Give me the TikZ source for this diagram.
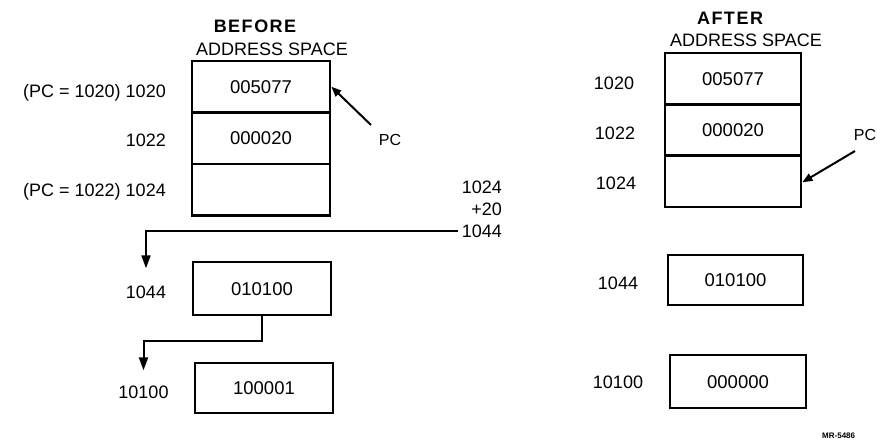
\documentclass[tikz,border=0pt]{standalone}
\usepackage{fontspec}
\setmainfont{Liberation Sans}
\usetikzlibrary{arrows.meta}
\newcommand{\spc}{\kern1.5pt}
\begin{document}
\begin{tikzpicture}[x=1pt,y=-1pt,
  lbl/.style={inner sep=0pt, font=\fontsize{18}{20}\selectfont, text height=13pt, text depth=0pt},
  hdr/.style={inner sep=0pt, font=\fontsize{18}{20}\selectfont, text height=13pt, text depth=0pt},
  cell/.style={draw, line width=2.8pt, inner sep=0pt, font=\fontsize{18.5}{20}\selectfont, text height=13pt, text depth=0pt},
  conn/.style={line width=2pt, -{Triangle[length=13pt,width=9pt]}},
  pcarrow/.style={line width=2pt, -{Triangle[length=10pt,width=8pt]}}
]
\useasboundingbox (0,0) rectangle (877,441);

% ---------- BEFORE ----------
\node[hdr, font=\fontsize{18}{20}\selectfont\bfseries] (bT1) at (255,26) {B\spc E\spc F\spc O\spc R\spc E};
\node[hdr] (bT2) at (272,49) {ADDRESS SPACE};

\node[cell, minimum width=138pt, minimum height=51.5pt] (bA) at (261,86.75) {005077};
\node[cell, minimum width=138pt, minimum height=51.5pt] (bB) at (261,138.25) {000020};
\node[cell, minimum width=138pt, minimum height=51.5pt] (bC) at (261,189.75) {};

\node[lbl, anchor=east] (bl1) at (166,91) {(PC = 1020) 1020};
\node[lbl, anchor=east] (bl2) at (166,140) {1022};
\node[lbl, anchor=east] (bl3) at (166,190) {(PC = 1022) 1024};

\node[lbl, font=\fontsize{16}{18}\selectfont, text height=11.5pt] (bpc) at (390,140) {PC};
\coordinate (bpcS) at (371,125);
\draw[pcarrow] (bpcS) -- (bA.east);

\node[lbl, anchor=east] (s1) at (502,187) {1024};
\node[lbl, anchor=east] (s2) at (502,209) {+20};
\node[lbl, anchor=east] (s3) at (502,231) {1044};

\node[cell, minimum width=138pt, minimum height=53pt] (bD) at (262,288.5) {010100};
\node[cell, minimum width=138pt, minimum height=50pt] (bE) at (264,388) {100001};

\node[lbl] (bl4) at (146,292) {1044};
\node[lbl] (bl5) at (143.5,392) {10100};

\draw[conn] ([xshift=-4pt]s3.west) -| ([yshift=17pt]bl4.north);
\draw[conn] (bD.south) -- ++(0,25) -| ([yshift=15pt]bl5.north);

% ---------- AFTER ----------
\node[hdr, font=\fontsize{18}{20}\selectfont\bfseries] (aT1) at (730,18) {A\spc F\spc T\spc E\spc R};
\node[hdr] (aT2) at (746,40) {ADDRESS SPACE};

\node[cell, minimum width=136pt, minimum height=51.3pt] (aA) at (733,78.65) {005077};
\node[cell, minimum width=136pt, minimum height=51.3pt] (aB) at (733,129.95) {000020};
\node[cell, minimum width=136pt, minimum height=51.3pt] (aC) at (733,181.25) {};

\node[lbl] (al1) at (614,83) {1020};
\node[lbl] (al2) at (615,133) {1022};
\node[lbl] (al3) at (616,183) {1024};

\node[lbl, font=\fontsize{16}{18}\selectfont, text height=11.5pt] (apc) at (865,135) {PC};
\coordinate (apcS) at (855,151);
\draw[pcarrow] (apcS) -- ([yshift=-1pt]aC.east);

\node[cell, minimum width=135pt, minimum height=50pt] (aD) at (735.5,280) {010100};
\node[cell, minimum width=136pt, minimum height=53pt] (aE) at (738,381.5) {000000};

\node[lbl] (al4) at (618,283) {1044};
\node[lbl] (al5) at (618,382) {10100};

\node[inner sep=0pt, anchor=west, font=\fontsize{8}{9}\selectfont\bfseries] (mr) at (822,436) {MR-5486};
\end{tikzpicture}
\end{document}
